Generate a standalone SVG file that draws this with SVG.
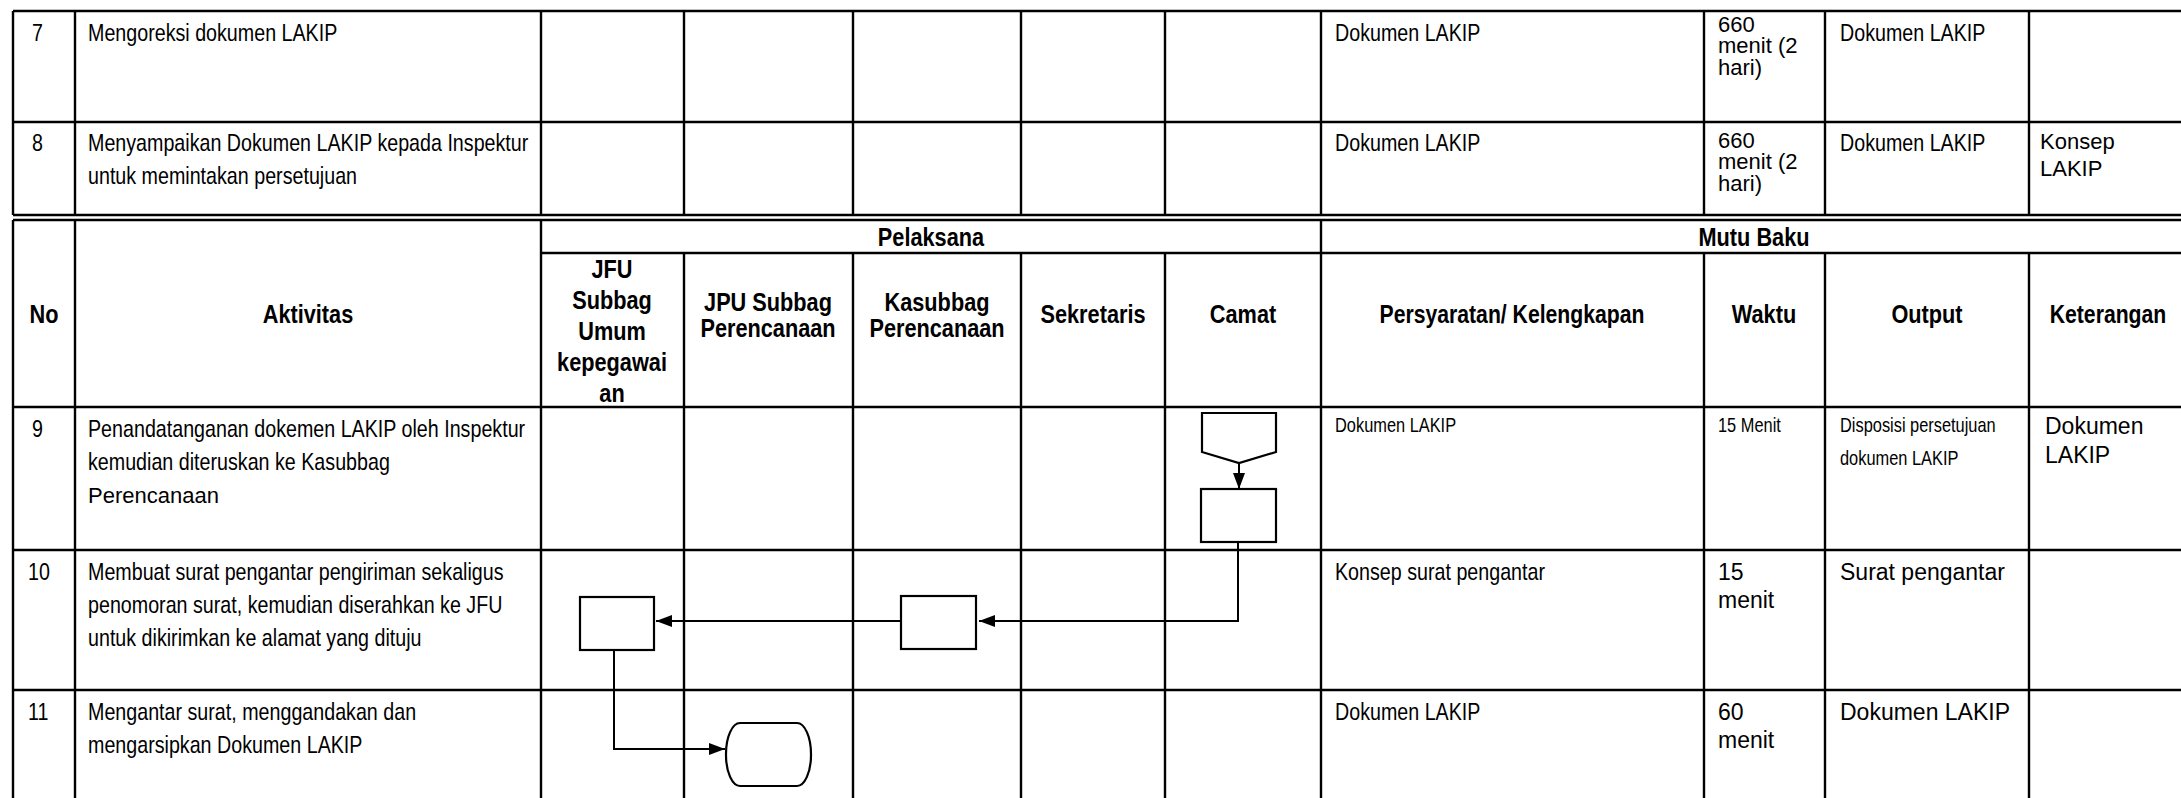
<svg xmlns="http://www.w3.org/2000/svg" width="2181" height="798" viewBox="0 0 2181 798">
<style>
.ln{stroke:#000;stroke-width:2.4;fill:none}
.sh{stroke:#000;stroke-width:2.2;fill:#fff}
.cn{stroke:#000;stroke-width:2;fill:none}
text{fill:#000;font-family:"Liberation Sans",Arial,sans-serif}
.n{font-size:24px}
.ns{font-size:20px}
.r{font-size:22px}
.rl{font-size:23px}
.h{font-size:26.5px;font-weight:bold;text-anchor:middle}
</style>
<defs>
<marker id="ah" markerUnits="userSpaceOnUse" markerWidth="16" markerHeight="12" refX="16" refY="6" orient="auto">
<path d="M0,0 L16,6 L0,12 z" fill="#000"/>
</marker>
</defs>
<rect width="2181" height="798" fill="#fff"/>
<g id="table">
<path class="ln" d="M13,11H2187 M13,122H2187 M13,215H2187 M13,220H2187 M541,253H2187 M13,407H2187 M13,550H2187 M13,690H2187"/>
<path class="ln" d="M13,11V215 M75,11V215 M541,11V215 M684,11V215 M853,11V215 M1021,11V215 M1165,11V215 M1321,11V215 M1704,11V215 M1825,11V215 M2029,11V215"/>
<path class="ln" d="M13,220V798 M75,220V798 M541,220V798 M1321,220V798 M684,253V798 M853,253V798 M1021,253V798 M1165,253V798 M1704,253V798 M1825,253V798 M2029,253V798"/>
</g>
<g id="header">
<text class="h" transform="translate(44,323) scale(0.82,1)">No</text>
<text class="h" transform="translate(308,323) scale(0.82,1)">Aktivitas</text>
<text class="h" transform="translate(931,246) scale(0.82,1)">Pelaksana</text>
<text class="h" transform="translate(1754,246) scale(0.82,1)">Mutu Baku</text>
<text class="h" transform="translate(612,278) scale(0.82,1)"><tspan x="0" y="0">JFU</tspan><tspan x="0" y="31">Subbag</tspan><tspan x="0" y="62">Umum</tspan><tspan x="0" y="93">kepegawai</tspan><tspan x="0" y="124">an</tspan></text>
<text class="h" transform="translate(768,311) scale(0.82,1)"><tspan x="0" y="0">JPU Subbag</tspan><tspan x="0" y="26">Perencanaan</tspan></text>
<text class="h" transform="translate(937,311) scale(0.82,1)"><tspan x="0" y="0">Kasubbag</tspan><tspan x="0" y="26">Perencanaan</tspan></text>
<text class="h" transform="translate(1093,323) scale(0.82,1)">Sekretaris</text>
<text class="h" transform="translate(1243,323) scale(0.82,1)">Camat</text>
<text class="h" transform="translate(1512,323) scale(0.8,1)">Persyaratan/ Kelengkapan</text>
<text class="h" transform="translate(1764,323) scale(0.82,1)">Waktu</text>
<text class="h" transform="translate(1927,323) scale(0.82,1)">Output</text>
<text class="h" transform="translate(2108,323) scale(0.8,1)">Keterangan</text>
</g>
<g id="row7">
<text class="n" transform="translate(32,41) scale(0.82,1)">7</text>
<text class="n" transform="translate(88,41) scale(0.82,1)">Mengoreksi dokumen LAKIP</text>
<text class="n" transform="translate(1335,41) scale(0.82,1)">Dokumen LAKIP</text>
<text class="r"><tspan x="1718" y="32">660</tspan><tspan x="1718" y="53">menit (2</tspan><tspan x="1718" y="75">hari)</tspan></text>
<text class="n" transform="translate(1840,41) scale(0.82,1)">Dokumen LAKIP</text>
</g>
<g id="row8">
<text class="n" transform="translate(32,151) scale(0.82,1)">8</text>
<text class="n" transform="translate(88,151) scale(0.82,1)"><tspan x="0" y="0">Menyampaikan Dokumen LAKIP kepada Inspektur</tspan><tspan x="0" y="33">untuk memintakan persetujuan</tspan></text>
<text class="n" transform="translate(1335,151) scale(0.82,1)">Dokumen LAKIP</text>
<text class="r"><tspan x="1718" y="148">660</tspan><tspan x="1718" y="169">menit (2</tspan><tspan x="1718" y="191">hari)</tspan></text>
<text class="n" transform="translate(1840,151) scale(0.82,1)">Dokumen LAKIP</text>
<text class="r"><tspan x="2040" y="149">Konsep</tspan><tspan x="2040" y="176">LAKIP</tspan></text>
</g>
<g id="row9">
<text class="n" transform="translate(32,437) scale(0.82,1)">9</text>
<text class="n" transform="translate(88,437) scale(0.82,1)"><tspan x="0" y="0">Penandatanganan dokemen LAKIP oleh Inspektur</tspan><tspan x="0" y="33">kemudian diteruskan ke Kasubbag</tspan></text>
<text class="r" x="88" y="503">Perencanaan</text>
<text class="ns" transform="translate(1335,432) scale(0.82,1)">Dokumen LAKIP</text>
<text class="ns" transform="translate(1718,432) scale(0.82,1)">15 Menit</text>
<text class="ns" transform="translate(1840,432) scale(0.82,1)"><tspan x="0" y="0">Disposisi persetujuan</tspan><tspan x="0" y="33">dokumen LAKIP</tspan></text>
<text class="rl"><tspan x="2045" y="434">Dokumen</tspan><tspan x="2045" y="463">LAKIP</tspan></text>
</g>
<g id="row10">
<text class="n" transform="translate(28,580) scale(0.82,1)">10</text>
<text class="n" transform="translate(88,580) scale(0.82,1)"><tspan x="0" y="0">Membuat surat pengantar pengiriman sekaligus</tspan><tspan x="0" y="33">penomoran surat, kemudian diserahkan ke JFU</tspan><tspan x="0" y="66">untuk dikirimkan ke alamat yang dituju</tspan></text>
<text class="n" transform="translate(1335,580) scale(0.82,1)">Konsep surat pengantar</text>
<text class="rl"><tspan x="1718" y="580">15</tspan><tspan x="1718" y="608">menit</tspan></text>
<text class="rl" x="1840" y="580">Surat pengantar</text>
</g>
<g id="row11">
<text class="n" transform="translate(28,720) scale(0.82,1)">11</text>
<text class="n" transform="translate(88,720) scale(0.82,1)"><tspan x="0" y="0">Mengantar surat, menggandakan dan</tspan><tspan x="0" y="33">mengarsipkan Dokumen LAKIP</tspan></text>
<text class="n" transform="translate(1335,720) scale(0.82,1)">Dokumen LAKIP</text>
<text class="rl"><tspan x="1718" y="720">60</tspan><tspan x="1718" y="748">menit</tspan></text>
<text class="rl" x="1840" y="720">Dokumen LAKIP</text>
</g>
<g id="node-offpage"><polygon class="sh" points="1202,413 1276,413 1276,452 1239,463 1202,452"/></g>
<g id="node-camat"><rect class="sh" x="1201" y="489" width="75" height="53"/></g>
<g id="node-kasubbag"><rect class="sh" x="901" y="596" width="75" height="53"/></g>
<g id="node-jfu"><rect class="sh" x="580" y="597" width="74" height="53"/></g>
<g id="node-end"><rect class="sh" x="726" y="723" width="85" height="63" rx="14" ry="31"/></g>
<g id="connectors">
<path class="cn" d="M1239,463V489" marker-end="url(#ah)"/>
<path class="cn" d="M1238,542V621H979" marker-end="url(#ah)"/>
<path class="cn" d="M901,621H656" marker-end="url(#ah)"/>
<path class="cn" d="M614,650V749H725" marker-end="url(#ah)"/>
</g>
</svg>
